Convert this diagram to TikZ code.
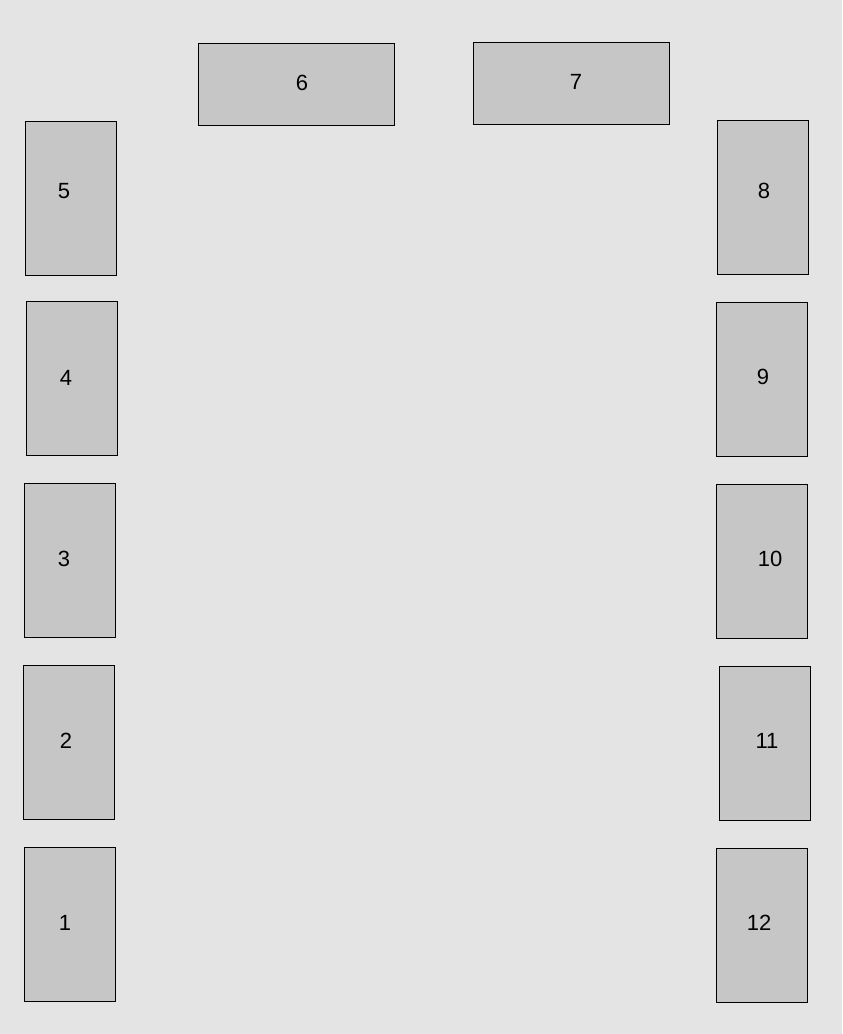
\documentclass[tikz,border=0pt]{standalone}
\usepackage{fontspec}
\setmainfont{Liberation Sans}
\usetikzlibrary{positioning}
\definecolor{roomgray}{RGB}{228,228,228}
\definecolor{deskgray}{RGB}{198,198,198}

\begin{document}
\begin{tikzpicture}[x=0.75pt, y=-0.75pt,
    desk/.style={rectangle, draw=black, line width=0.6pt, fill=deskgray, inner sep=0pt},
    tall/.style={desk, minimum width=68.25pt, minimum height=115.5pt},
    wide/.style={desk, minimum width=147pt, minimum height=61.5pt},
    num/.style={font=\fontsize{16.5}{20}\selectfont, inner sep=0pt}]
    \fill[roomgray] (0,0) rectangle (842,1034);
    \useasboundingbox (0,0) rectangle (842,1034);
    % top row
    \node[wide] (d6) at (296,84) {};
    \node[wide] (d7) at (571,83) {};
    % left column
    \node[tall] (d5) at (70.5,198.5) {};
    \node[tall] (d4) at (71.5,378) {};
    \node[tall] (d3) at (69.5,560) {};
    \node[tall] (d2) at (68.5,742) {};
    \node[tall] (d1) at (69.5,924) {};
    % right column
    \node[tall] (d8) at (762.5,197.5) {};
    \node[tall] (d9) at (761.5,379.5) {};
    \node[tall] (d10) at (761.5,561) {};
    \node[tall] (d11) at (764.5,743) {};
    \node[tall] (d12) at (761.5,925) {};
    % numbers
    \node[num] (n1) at (65,923) {1};
    \node[num] (n2) at (66,741) {2};
    \node[num] (n3) at (64,559) {3};
    \node[num] (n4) at (66,378) {4};
    \node[num] (n5) at (64,191) {5};
    \node[num] (n6) at (302,83) {6};
    \node[num] (n7) at (576,82) {7};
    \node[num] (n8) at (764,191) {8};
    \node[num] (n9) at (763,377) {9};
    \node[num] (n10) at (770,559) {10};
    \node[num] (n11) at (767,741) {11};
    \node[num] (n12) at (759,923) {12};
\end{tikzpicture}
\end{document}
